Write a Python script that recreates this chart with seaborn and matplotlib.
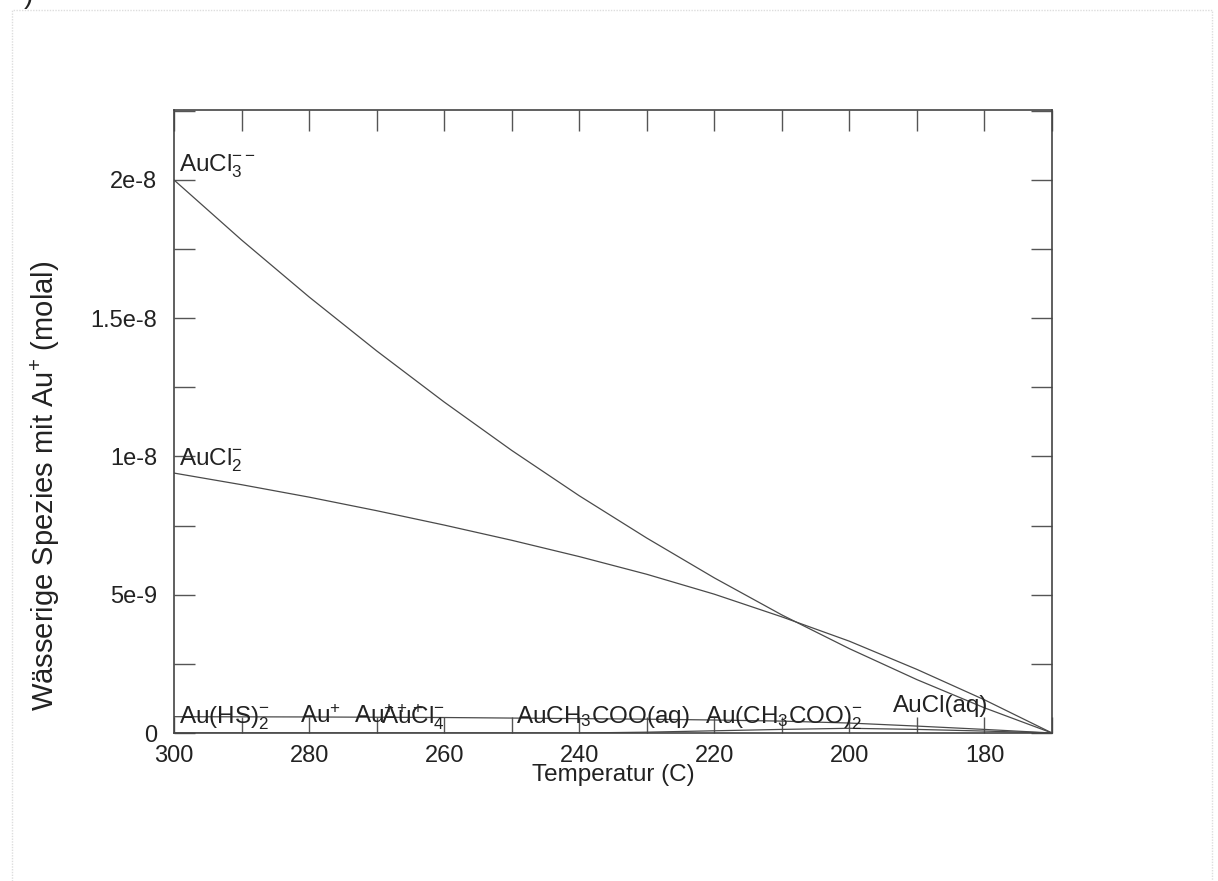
import matplotlib
matplotlib.use("Agg")
import matplotlib.pyplot as plt
import matplotlib.patches as mpatches
from matplotlib.ticker import MultipleLocator, FixedLocator, NullFormatter
import numpy as np
import pandas as pd
import seaborn as sns

# Temperature grid (°C) and molal concentrations of Au+ bearing species
temperature = [300, 290, 280, 270, 260, 250, 240, 230, 220, 210, 200, 190, 180, 170]
aucl3 = [2.0e-8, 1.783e-8, 1.577e-8, 1.382e-8, 1.197e-8, 1.022e-8, 8.58e-9,
         7.05e-9, 5.61e-9, 4.27e-9, 3.05e-9, 1.93e-9, 0.91e-9, 0.0]
aucl2 = [9.4e-9, 8.98e-9, 8.53e-9, 8.04e-9, 7.52e-9, 6.97e-9, 6.38e-9,
         5.74e-9, 5.02e-9, 4.2e-9, 3.32e-9, 2.3e-9, 1.2e-9, 0.0]
aucl_aq = [5.9e-10, 5.85e-10, 5.8e-10, 5.7e-10, 5.6e-10, 5.4e-10, 5.2e-10,
           5.0e-10, 4.7e-10, 4.3e-10, 3.6e-10, 2.5e-10, 1.3e-10, 0.0]
au_hs2 = [0.0, 0.0, 0.0, 0.0, 0.0, 0.0, 0.0,
          0.3e-10, 0.8e-10, 1.3e-10, 1.7e-10, 1.3e-10, 0.7e-10, 0.0]

series = {
    "AuCl3--": aucl3,
    "AuCl2-": aucl2,
    "AuCl(aq)": aucl_aq,
    "Au(HS)2-": au_hs2,
}

# Curve labels: text, temperature, concentration
label_text = [r"AuCl$_3^{--}$", r"AuCl$_2^{-}$", r"Au(HS)$_2^{-}$", r"Au$^{+}$",
              r"Au$^{+++}$", r"AuCl$_4^{-}$", r"AuCH$_3$COO(aq)",
              r"Au(CH$_3$COO)$_2^{-}$", "AuCl(aq)"]
label_t = [299.2, 299.2, 299.2, 281.4, 273.3, 269.3, 249.4, 221.4, 193.5]
label_c = [2.03e-8, 0.968e-8, 3.5e-10, 3.5e-10, 3.5e-10, 3.5e-10, 3.5e-10, 3.5e-10, 7.6e-10]

y_ticks = [0.0, 5e-9, 1e-8, 1.5e-8, 2e-8]
y_ticklabels = ["0", "5e-9", "1e-8", "1.5e-8", "2e-8"]
x_ticks = [300, 280, 260, 240, 220, 200, 180]

df = pd.DataFrame(
    [(sp, t, v) for sp, vals in series.items() for t, v in zip(temperature, vals)],
    columns=["species", "T", "m"],
)

sns.set_theme(style="ticks")
plt.rcParams["font.family"] = ["Liberation Sans", "DejaVu Sans"]
plt.rcParams["mathtext.fontset"] = "custom"
plt.rcParams["mathtext.rm"] = "Liberation Sans"
plt.rcParams["mathtext.it"] = "Liberation Sans"
plt.rcParams["mathtext.default"] = "regular"

fig = plt.figure(figsize=(12.18, 8.81), dpi=100)
ax = fig.add_axes([174 / 1218, 1 - 733 / 881, 878 / 1218, 623 / 881])

line_col = "#4a4a4a"
sns.lineplot(data=df, x="T", y="m", units="species", estimator=None,
             color=line_col, linewidth=0.9, ax=ax, legend=False)

ax.set_xlim(300, 170)
ax.set_ylim(0, 2.253e-8)

ax.xaxis.set_major_locator(FixedLocator(x_ticks))
ax.xaxis.set_minor_locator(MultipleLocator(10))
ax.set_xticklabels([str(t) for t in x_ticks])
ax.yaxis.set_major_locator(FixedLocator(y_ticks))
ax.yaxis.set_minor_locator(MultipleLocator(2.5e-9))
ax.set_yticklabels(y_ticklabels)

tick_col = "#555555"
ax.tick_params(which="both", direction="in", top=False, right=True,
               length=15, width=1.0, color=tick_col, labelsize=17,
               labelcolor="#222222")
ax.tick_params(axis="x", which="both", length=11.5, pad=9)
ax.tick_params(axis="y", which="both", pad=12)

# Longer tick marks along the top edge
top = ax.secondary_xaxis("top")
top.xaxis.set_major_locator(MultipleLocator(10))
top.xaxis.set_major_formatter(NullFormatter())
top.tick_params(direction="in", length=15, width=1.0, color=tick_col)
top.spines["top"].set_visible(False)

for sp in ax.spines.values():
    sp.set_color("#444444")
    sp.set_linewidth(1.2)

ax.set_xlabel("Temperatur (C)", fontsize=17.5, color="#222222")
ax.xaxis.set_label_coords(0.5, -0.05)
ax.set_ylabel(r"Wässerige Spezies mit Au$^{+}$ (molal)", fontsize=21,
              color="#222222")
ax.yaxis.set_label_coords(-0.128, 0.396)

for txt, t, c in zip(label_text, label_t, label_c):
    ax.text(t, c, txt, fontsize=17.5, color="#222222", ha="left", va="baseline")

# Light page frame and a stray mark at the top edge
fig.patches.append(mpatches.Rectangle((12 / 1218, -0.05), 1200 / 1218, 1 - 10 / 881 + 0.05,
                                      transform=fig.transFigure, fill=False,
                                      edgecolor="#dddddd", linewidth=1.0,
                                      linestyle=(0, (1, 1))))
fig.text(24 / 1218, 1.004, ")", fontsize=20, color="#222222", ha="left", va="center")

fig.savefig("out.png", dpi=100, facecolor="white")
